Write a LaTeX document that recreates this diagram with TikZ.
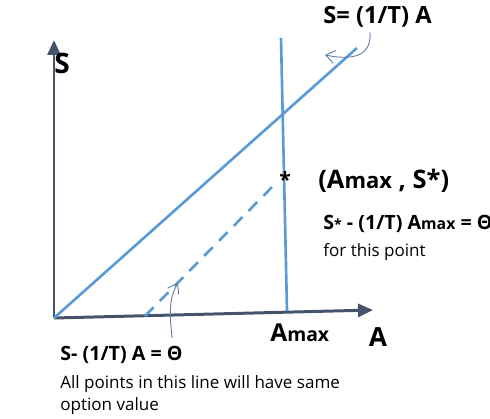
\documentclass[tikz,border=0pt]{standalone}
\usepackage{fontspec}
\setmainfont{Open Sans}
\usetikzlibrary{arrows.meta, positioning}
\definecolor{axisgray}{RGB}{68,84,106}
\definecolor{lineblue}{RGB}{91,155,213}
\definecolor{calloutblue}{RGB}{95,125,165}

\begin{document}
\begin{tikzpicture}[x=0.02cm, y=-0.02cm,
        axis/.style={axisgray, line width=1.7pt, -{Triangle[length=3mm, width=2.6mm]}},
        curve/.style={lineblue, line width=1.5pt},
        callout/.style={calloutblue, line width=0.5pt, -{Straight Barb[length=1.8mm, width=2.6mm]}},
        axlabel/.style={font=\bfseries\fontsize{15}{17}\selectfont, inner sep=0pt},
        eqlabel/.style={font=\bfseries\fontsize{13.5}{15}\selectfont, anchor=west, inner sep=0pt},
        smalleq/.style={font=\bfseries\fontsize{11.2}{13}\selectfont, anchor=west, inner sep=0pt},
        plain/.style={font=\fontsize{9.7}{12.5}\selectfont, anchor=west, inner sep=0pt}
    ]
        \useasboundingbox (0,0) rectangle (490,419);

        % axes
        \coordinate (O) at (54,318);
        \coordinate (ytip) at (54,40);
        \coordinate (xtip) at (373,310);
        \draw[axis] (O) -- (ytip);
        \draw[axis] (O) -- (xtip);
        \node[axlabel, font=\bfseries\fontsize{16}{18}\selectfont] (slabel) at (62,63) {S};
        \node[axlabel] (alabel) at (378,337) {A};

        % lines
        \coordinate (diagtop) at (357,48);
        \coordinate (amaxtop) at (281,38);
        \coordinate (amaxbot) at (287,311);
        \coordinate (dashstart) at (145,316);
        \coordinate (dashend) at (277,182);
        \draw[curve] (O) -- (diagtop);
        \draw[curve] (amaxtop) -- (amaxbot);
        \draw[curve, dash pattern=on 7pt off 5pt] (dashstart) -- (dashend);
        \node[font=\bfseries\fontsize{12}{14}\selectfont, inner sep=0pt] (star) at (285,179) {*};

        % labels
        \node[eqlabel] (diageq) at (323,17) {S= (1/T) A};
        \node[eqlabel, font=\bfseries\fontsize{14.5}{16}\selectfont] (point) at (318,181)
            {(A{\fontsize{12.5}{14}\selectfont max} , S*)};
        \node[smalleq] (pointeq) at (323,224) {S{\fontsize{8}{9}\selectfont*} - (1/T) A{\fontsize{9}{10}\selectfont max} = Θ};
        \node[plain] (pointnote) at (323,252) {for this point};
        \node[font=\bfseries\fontsize{14}{16}\selectfont, anchor=west, inner sep=0pt] (amax) at (270,333)
            {A{\fontsize{11}{13}\selectfont max}};
        \node[smalleq] (lineeq) at (60,355) {S- (1/T) A = Θ};
        \node[plain, align=left, anchor=north west] (linenote) at (60,375)
            {All points in this line will have same\\option value};

        % call-out arrows
        \coordinate (diagfrom) at (370,32);
        \coordinate (diagpt) at (325,55);
        \coordinate (dashfrom) at (172,338);
        \coordinate (dashpt) at (178,283);
        \draw[callout] (diagfrom) .. controls (372,58) and (350,60) .. (diagpt);
        \draw[callout] (dashfrom) .. controls (170,315) and (168,300) .. (dashpt);
    \end{tikzpicture}
\end{document}
